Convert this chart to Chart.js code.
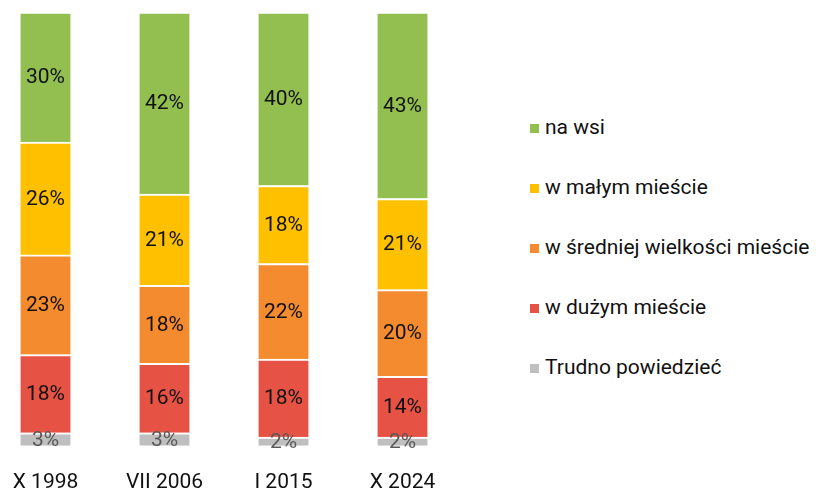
<!DOCTYPE html>
<html>
<head>
<meta charset="utf-8">
<script src="https://cdn.jsdelivr.net/npm/chart.js@4"></script>
<style>
  html, body { margin: 0; padding: 0; background: #fff; }
  body { width: 816px; height: 491px; position: relative; overflow: hidden; font-family: Roboto, sans-serif; }
  #wrap { position: absolute; left: -14px; top: 0; width: 476px; height: 514px; }
  #legend { position: absolute; left: 530px; top: 97px; margin: 0; padding: 0; list-style: none; }
  #legend li { height: 60px; line-height: 60px; font-size: 21px; color: #111; white-space: nowrap; }
  #legend .box { display: inline-block; width: 9px; height: 9px; margin-right: 6px; vertical-align: 1px; }
</style>
</head>
<body>
<div id="wrap"><canvas id="chart"></canvas></div>
<ul id="legend"></ul>
<script>
// categories (survey dates)
const categories = ['X 1998', 'VII 2006', 'I 2015', 'X 2024'];

// series values in %, bottom of the stack first
const trudno  = [3, 3, 2, 2];
const duze    = [18, 16, 18, 14];
const srednie = [23, 18, 22, 20];
const male    = [26, 21, 18, 21];
const wies    = [30, 42, 40, 43];

const seriesNames = ['Trudno powiedzieć', 'w dużym mieście', 'w średniej wielkości mieście', 'w małym mieście', 'na wsi'];
const seriesColors = ['#bfbfbf', '#e65344', '#f58b2f', '#ffc000', '#92bf4f'];
const labelColors = ['#595959', '#111', '#111', '#111', '#111'];

const series = [trudno, duze, srednie, male, wies];

const datasets = series.map((values, i) => ({
  label: seriesNames[i],
  data: values,
  backgroundColor: seriesColors[i],
  borderColor: '#ffffff',
  borderWidth: { top: 2, left: 0, right: 0, bottom: 0 },
  borderSkipped: false,
  barThickness: 50
}));

// labels in the middle of each segment
const segmentLabels = {
  id: 'segmentLabels',
  afterDatasetsDraw(chart) {
    const ctx = chart.ctx;
    ctx.save();
    ctx.font = '21px Roboto, sans-serif';
    ctx.textAlign = 'center';
    ctx.textBaseline = 'middle';
    chart.data.datasets.forEach((ds, i) => {
      const meta = chart.getDatasetMeta(i);
      meta.data.forEach((bar, j) => {
        const props = bar.getProps(['x', 'y', 'base'], true);
        ctx.fillStyle = labelColors[i];
        ctx.fillText(ds.data[j] + '%', props.x, (props.y + props.base) / 2 + 1);
      });
    });
    ctx.restore();
  }
};

const ctx = document.getElementById('chart').getContext('2d');
const chart = new Chart(ctx, {
  type: 'bar',
  data: { labels: categories, datasets: datasets },
  options: {
    responsive: true,
    maintainAspectRatio: false,
    animation: false,
    layout: { padding: { top: 12, bottom: 3, left: 0, right: 0 } },
    plugins: {
      legend: { display: false },
      tooltip: { enabled: false }
    },
    scales: {
      x: {
        stacked: true,
        grid: { display: false },
        border: { display: false },
        ticks: { color: '#111', padding: 16, font: { family: 'Roboto', size: 21 } }
      },
      y: {
        stacked: true,
        display: false,
        min: 0,
        max: 100
      }
    }
  },
  plugins: [segmentLabels]
});

// legend, top series first
const legendEl = document.getElementById('legend');
chart.data.datasets.slice().reverse().forEach(ds => {
  const li = document.createElement('li');
  const box = document.createElement('span');
  box.className = 'box';
  box.style.background = ds.backgroundColor;
  li.appendChild(box);
  li.appendChild(document.createTextNode(ds.label));
  legendEl.appendChild(li);
});
</script>
</body>
</html>
